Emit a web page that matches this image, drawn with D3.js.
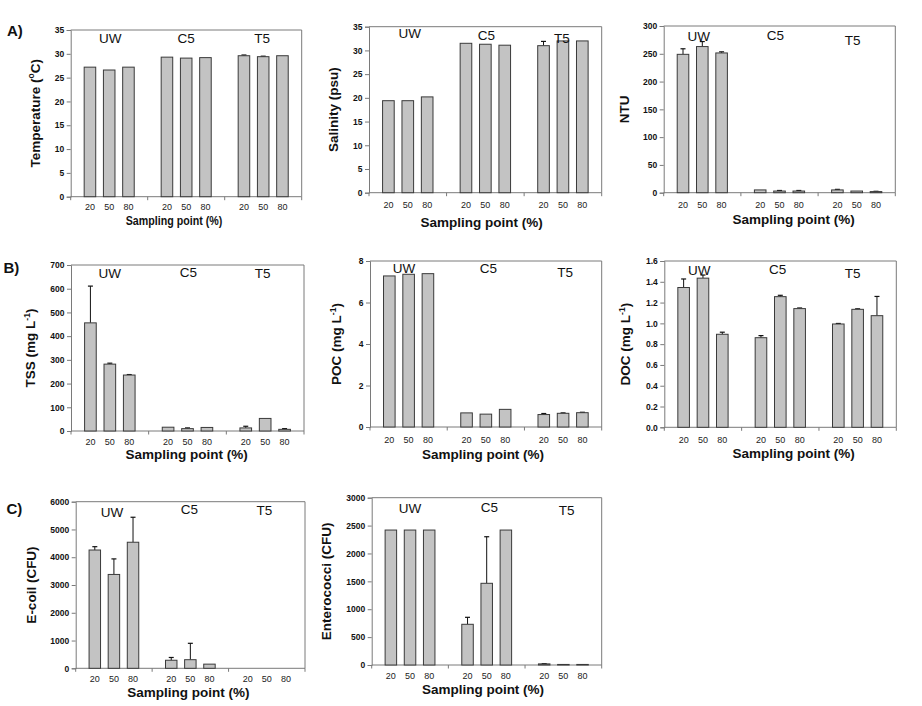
<!DOCTYPE html>
<html><head><meta charset="utf-8">
<script src="https://cdn.jsdelivr.net/npm/d3@7"></script>
<style>body{margin:0;background:#fff}svg{display:block}text{font-family:"Liberation Sans",Arial,sans-serif}</style>
</head><body><svg id="c" width="922" height="706"></svg>
<script>
// ---------------- DATA ----------------
const groups = ["UW", "C5", "T5"];
const points = ["20", "50", "80"];

const temperature    = [[27.2, 26.6, 27.2], [29.3, 29.1, 29.2], [29.6, 29.4, 29.6]];
const temperatureErr = [[0, 0, 0], [0, 0, 0], [0.15, 0.1, 0]];
const temperatureTicks = [0, 5, 10, 15, 20, 25, 30, 35];

const salinity    = [[19.4, 19.4, 20.2], [31.5, 31.3, 31.1], [31.0, 32.0, 32.0]];
const salinityErr = [[0, 0, 0], [0, 0, 0], [0.9, 0, 0]];
const salinityTicks = [0, 5, 10, 15, 20, 25, 30, 35];

const ntu    = [[249, 263, 251.5], [5, 3, 3], [5, 3, 2]];
const ntuErr = [[10, 9, 2], [0, 1, 1], [1, 0, 0.5]];
const ntuTicks = [0, 50, 100, 150, 200, 250, 300];

const tss    = [[456, 282, 236], [16, 10, 15], [13, 53, 7]];
const tssErr = [[155, 4, 2], [0, 3, 0], [7, 0, 3]];
const tssTicks = [0, 100, 200, 300, 400, 500, 600, 700];

const poc    = [[7.28, 7.36, 7.39], [0.68, 0.62, 0.85], [0.60, 0.66, 0.69]];
const pocErr = [[0, 0, 0], [0, 0, 0], [0.05, 0.02, 0.02]];
const pocTicks = [0, 2, 4, 6, 8];

const doc    = [[1.345, 1.435, 0.895], [0.862, 1.257, 1.142], [0.994, 1.135, 1.074]];
const docErr = [[0.082, 0.03, 0.02], [0.02, 0.013, 0.006], [0.005, 0.005, 0.185]];
const docTicks = [0, 0.2, 0.4, 0.6, 0.8, 1.0, 1.2, 1.4, 1.6];

const ecoli    = [[4260, 3380, 4540], [290, 310, 150], [0, 0, 0]];
const ecoliErr = [[120, 560, 900], [100, 590, 0], [0, 0, 0]];
const ecoliTicks = [0, 1000, 2000, 3000, 4000, 5000, 6000];

const entero    = [[2420, 2420, 2420], [730, 1465, 2420], [20, 10, 10]];
const enteroErr = [[0, 0, 0], [125, 835, 0], [5, 0, 0]];
const enteroTicks = [0, 500, 1000, 1500, 2000, 2500, 3000];

const xTitle = "Sampling point (%)";
const panelLetters = ["A)", "B)", "C)"];

// ---------------- LAYOUT ----------------
const panels = [
  {ylab:[["Temperature ("],["o",1],["C)"]], v:temperature, e:temperatureErr, t:temperatureTicks, f:d3.format("d"),
   x0:70.7, x1:301.7, y0:30, y1:196.7, yl:39.5, xt:[174,225], xs:0.79, tk:13.5, lp:[[1,13],[0,13],[-1,13]]},
  {ylab:[["Salinity (psu)"]], v:salinity, e:salinityErr, t:salinityTicks, f:d3.format("d"),
   x0:369, x1:601.7, y0:26.7, y1:192.7, yl:338, xt:[481.7,227], xs:1, tk:15, lp:[[2,11.7],[1,13.3],[-1,16]]},
  {ylab:[["NTU"]], v:ntu, e:ntuErr, t:ntuTicks, f:d3.format("d"),
   x0:663.7, x1:895.3, y0:26, y1:192.7, yl:628.7, xt:[793.7,224], xs:1, tk:15, lp:[[-3.6,14.7],[-4.2,14],[-4,19]]},
  {ylab:[["TSS (mg L"],["-1",1],[")"]], v:tss, e:tssErr, t:tssTicks, f:d3.format("d"),
   x0:71, x1:304, y0:265, y1:431, yl:35, xt:[186.7,459], xs:1, tk:14, lp:[[0,13.3],[1,11.7],[-2.5,12.7]]},
  {ylab:[["POC (mg L"],["-1",1],[")"]], v:poc, e:pocErr, t:pocTicks, f:d3.format("d"),
   x0:370, x1:601.7, y0:261, y1:427, yl:341, xt:[483,459], xs:1, tk:15.5, lp:[[-4.6,12.3],[2.5,12.3],[2,15.7]]},
  {ylab:[["DOC (mg L"],["-1",1],[")"]], v:doc, e:docErr, t:docTicks, f:d3.format(".1f"),
   x0:664.3, x1:896.3, y0:261, y1:427.3, yl:630, xt:[793.7,458], xs:1, tk:15.5, lp:[[-3.7,14],[-2.6,13.3],[-5,16.7]]},
  {ylab:[["E-coil (CFU)"]], v:ecoli, e:ecoliErr, t:ecoliTicks, f:d3.format("d"),
   x0:75.7, x1:305, y0:501.7, y1:668.3, yl:36, xt:[188.3,697], xs:1, tk:13.5, lp:[[-2,15],[-1,12.7],[-2.5,13.3]]},
  {ylab:[["Enterococci (CFU)"]], v:entero, e:enteroErr, t:enteroTicks, f:d3.format("d"),
   x0:371.7, x1:601.7, y0:497.7, y1:665, yl:331, xt:[483,694], xs:1, tk:14, lp:[[0,15.7],[2.6,14],[3.3,17.3]]}
];
const letterPos = [[7, 36], [3.5, 273], [6.5, 514]];

const svg = d3.select("#c");
const frame = "#7a7a7a";

panels.forEach(p => {
  const g = svg.append("g");
  const top = p.t[p.t.length - 1];
  const y = d3.scaleLinear().domain([0, top]).range([p.y1, p.y0]);
  const gx = d3.scaleBand().domain(groups).range([p.x0, p.x1]).padding(0);
  const bx = d3.scaleBand().domain(points).range([0, gx.bandwidth()]).paddingInner(0.4).paddingOuter(0.7);

  // frame (top/right)
  g.append("path").attr("d", `M${p.x0},${p.y0}H${p.x1}V${p.y1}`)
    .attr("fill", "none").attr("stroke", frame).attr("stroke-width", 1);

  // y axis
  const ya = d3.axisLeft(y).tickValues(p.t).tickFormat(p.f).tickSize(4).tickPadding(2.5);
  const yg = g.append("g").attr("transform", `translate(${p.x0},0)`).call(ya);
  yg.select(".domain").attr("stroke", frame);
  yg.selectAll(".tick line").attr("stroke", frame);
  yg.selectAll(".tick text").attr("font-size", 8.5).attr("font-weight", "bold")
    .attr("fill", "#111").style("font-family", "'Liberation Sans',Arial,sans-serif");

  // x axis baseline with ticks at group boundaries
  const bounds = groups.map(k => gx(k)).concat([p.x1]);
  const xg = g.append("g");
  xg.append("line").attr("x1", p.x0).attr("x2", p.x1).attr("y1", p.y1).attr("y2", p.y1).attr("stroke", frame);
  xg.selectAll("line.tk").data(bounds).join("line").attr("class", "tk")
    .attr("x1", d => d).attr("x2", d => d).attr("y1", p.y1).attr("y2", p.y1 + 3.5).attr("stroke", frame);

  // bars
  const rows = [];
  groups.forEach((gk, i) => points.forEach((pk, j) => rows.push({gk, pk, v: p.v[i][j], e: p.e[i][j]})));
  const cx = d => gx(d.gk) + bx(d.pk) + bx.bandwidth() / 2;

  // error bars (upper)
  const eb = rows.filter(d => d.e > 0);
  g.selectAll("line.eb").data(eb).join("line").attr("class", "eb")
    .attr("x1", cx).attr("x2", cx).attr("y1", d => y(d.v)).attr("y2", d => y(d.v + d.e))
    .attr("stroke", "#111").attr("stroke-width", 1);
  g.selectAll("line.cap").data(eb).join("line").attr("class", "cap")
    .attr("x1", d => cx(d) - 2.5).attr("x2", d => cx(d) + 2.5).attr("y1", d => y(d.v + d.e)).attr("y2", d => y(d.v + d.e))
    .attr("stroke", "#111").attr("stroke-width", 1.2);

  g.selectAll("rect.bar").data(rows.filter(d => d.v > 0)).join("rect").attr("class", "bar")
    .attr("x", d => gx(d.gk) + bx(d.pk)).attr("width", bx.bandwidth())
    .attr("y", d => y(d.v)).attr("height", d => y(0) - y(d.v))
    .attr("fill", "#c3c3c3").attr("stroke", "#3a3a3a").attr("stroke-width", 1);

  // x tick labels
  g.selectAll("text.xt").data(rows).join("text").attr("class", "xt")
    .attr("x", cx).attr("y", p.y1 + p.tk).attr("text-anchor", "middle")
    .attr("font-size", 9).attr("fill", "#222").text(d => d.pk);

  // group labels
  g.selectAll("text.gl").data(groups).join("text").attr("class", "gl")
    .attr("x", (d, i) => gx(d) + gx.bandwidth() / 2 + p.lp[i][0]).attr("y", (d, i) => p.y0 + p.lp[i][1])
    .attr("text-anchor", "middle").attr("font-size", 13.5).attr("fill", "#111").text(d => d);

  // x title
  g.append("text").attr("transform", `translate(${p.xt[0]},${p.xt[1]}) scale(${p.xs},1)`)
    .attr("text-anchor", "middle").attr("font-size", 13.5).attr("font-weight", "bold").attr("fill", "#111")
    .text(xTitle);

  // y title
  const yt = g.append("text")
    .attr("transform", `translate(${p.yl},${(p.y0 + p.y1) / 2}) rotate(-90)`)
    .attr("text-anchor", "middle").attr("font-size", 13.5).attr("font-weight", "bold").attr("fill", "#111");
  let shifted = false;
  p.ylab.forEach(s => {
    const ts = yt.append("tspan").text(s[0]);
    if (s[1]) { ts.attr("font-size", 8.5).attr("dy", -5.5); shifted = true; }
    else if (shifted) { ts.attr("dy", 5.5); shifted = false; }
  });
});

svg.selectAll("text.pl").data(panelLetters).join("text").attr("class", "pl")
  .attr("x", (d, i) => letterPos[i][0]).attr("y", (d, i) => letterPos[i][1])
  .attr("font-size", 15).attr("font-weight", "bold").attr("fill", "#111").text(d => d);
</script></body></html>
